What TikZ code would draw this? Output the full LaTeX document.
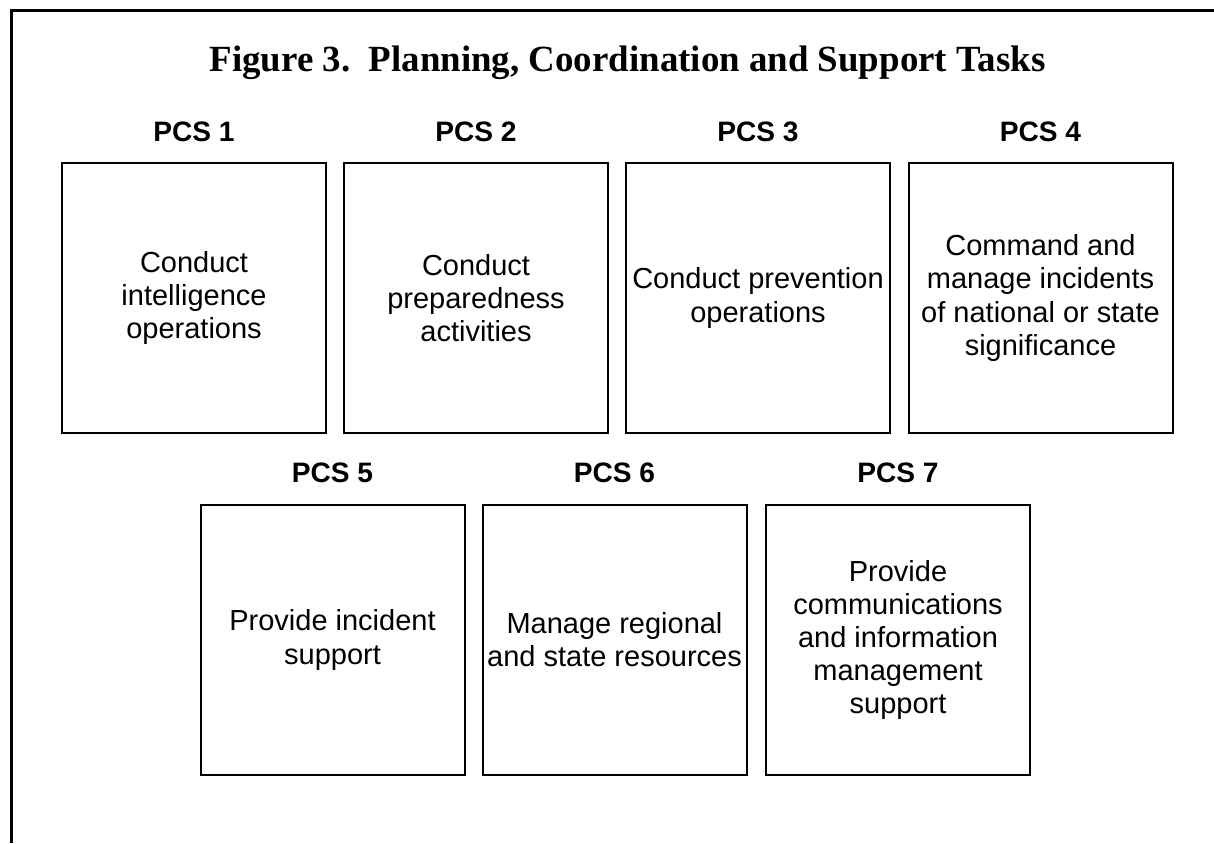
\documentclass[tikz,border=0pt]{standalone}
\usepackage{fontspec}
\setmainfont{Liberation Serif}
\setsansfont{Liberation Sans}
\tikzset{
  task/.style={draw, line width=0.04cm, minimum width=5.28cm,
    minimum height=5.4cm, inner sep=2pt, align=center,
    font=\sffamily\fontsize{16.5}{18.8}\selectfont},
  pcs/.style={anchor=base, font=\sffamily\bfseries\fontsize{16}{19}\selectfont}
}

\begin{document}
\begin{tikzpicture}
    \useasboundingbox (0, 0) rectangle (24.28, -16.86);
    \draw[line width=0.06cm] (24.28, -0.22) -- (0.22, -0.22) -- (0.22, -16.86);
    \node[anchor=base, font=\bfseries\fontsize{21}{25}\selectfont] (title)
      at (12.55, -1.44) {Figure 3.\ \ Planning, Coordination and Support Tasks};
    % first row
    \node[pcs] (p1) at (3.88, -2.82) {PCS 1};
    \node[pcs] (p2) at (9.52, -2.82) {PCS 2};
    \node[pcs] (p3) at (15.16, -2.82) {PCS 3};
    \node[pcs] (p4) at (20.81, -2.82) {PCS 4};
    \node[task] (t1) at (3.88, -5.96) {Conduct\\intelligence\\operations};
    \node[task] (t2) at (9.52, -5.96) {Conduct\\preparedness\\activities};
    \node[task] (t3) at (15.16, -5.96) {Conduct prevention\\operations};
    \node[task] (t4) at (20.81, -5.96)
      {Command and\\manage incidents\\of national or state\\significance};
    % second row
    \node[pcs] (p5) at (6.65, -9.64) {PCS 5};
    \node[pcs] (p6) at (12.29, -9.64) {PCS 6};
    \node[pcs] (p7) at (17.96, -9.64) {PCS 7};
    \node[task] (t5) at (6.65, -12.8) {Provide incident\\support};
    \node[task] (t6) at (12.29, -12.8) {Manage regional\\and state resources};
    \node[task] (t7) at (17.96, -12.8)
      {Provide\\communications\\and information\\management\\support};
  \end{tikzpicture}
\end{document}
